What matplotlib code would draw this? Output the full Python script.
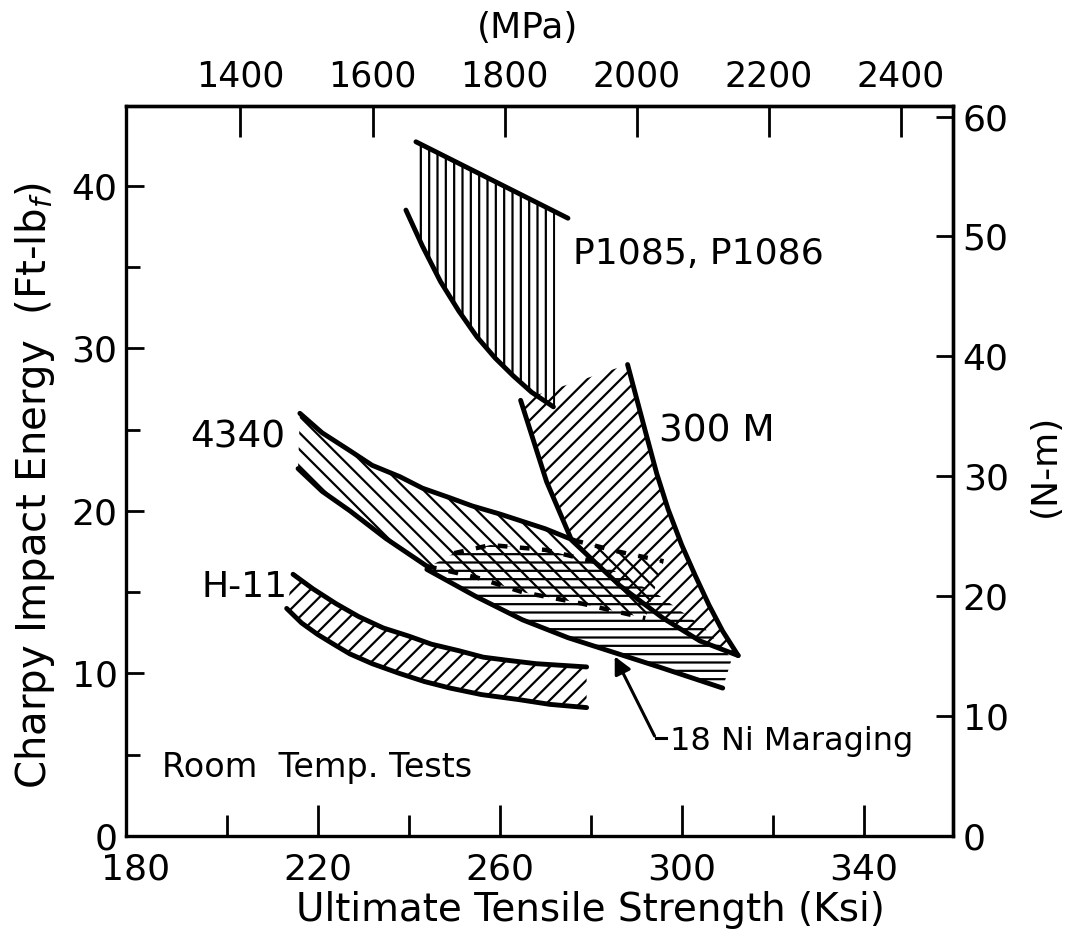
import numpy as np
import matplotlib
matplotlib.use('Agg')
import matplotlib.pyplot as plt

plt.rcParams['font.family'] = ['DejaVu Sans']
plt.rcParams['hatch.linewidth'] = 1.6
plt.rcParams['mathtext.fontset'] = 'dejavusans'

# band outlines read in (ksi, ft-lbf)
p1085_top_ksi = [241.6, 275.0]
p1085_top_ft = [42.7, 38.0]
p1085_low_ksi = [239.4, 243.0, 247.0, 251.0, 255.0, 259.0, 263.0, 267.0, 271.8]
p1085_low_ft = [38.5, 36.3, 34.1, 32.3, 30.7, 29.4, 28.3, 27.3, 26.4]

m300_right_ksi = [288.1, 290.0, 292.0, 294.5, 297.0, 300.0, 303.0, 306.0, 309.0, 312.4]
m300_right_ft = [29.0, 27.0, 24.9, 22.3, 20.1, 17.9, 16.0, 14.2, 12.6, 11.1]
m300_left_ksi = [264.6, 270.3, 275.8, 286.4, 295.9, 304.0, 312.4]
m300_left_ft = [26.8, 21.8, 18.2, 15.4, 13.4, 12.0, 11.1]

a4340_up_ksi = [216.1, 221.0, 227.1, 232.0, 238.1, 243.0, 249.1, 254.0, 260.1, 270.0, 276.2, 286.0, 296.0]
a4340_up_ft = [26.0, 24.8, 23.7, 22.8, 22.1, 21.4, 20.8, 20.3, 19.8, 18.9, 18.2, 17.5, 16.9]
a4340_low_ksi = [215.7, 221.0, 227.1, 235.0, 244.0, 255.0, 265.0, 278.0, 292.0]
a4340_low_ft = [22.6, 21.2, 20.0, 18.3, 16.6, 15.9, 15.0, 14.3, 13.4]

mar_up_ksi = [244.0, 250.0, 258.0, 270.0, 282.0, 295.0, 305.0, 311.0]
mar_up_ft = [16.5, 17.4, 17.9, 17.6, 16.8, 14.8, 12.8, 10.9]
mar_low_ksi = [244.0, 255.0, 265.0, 275.0, 285.0, 295.0, 309.0]
mar_low_ft = [16.4, 14.7, 13.3, 12.2, 11.3, 10.4, 9.1]

h11_up_ksi = [214.6, 219.0, 224.0, 229.0, 234.4, 240.0, 245.0, 251.0, 256.4, 262.0, 268.0, 279.1]
h11_up_ft = [16.1, 15.2, 14.3, 13.5, 12.8, 12.3, 11.8, 11.4, 11.0, 10.8, 10.6, 10.4]
h11_low_ksi = [213.2, 216.5, 220.0, 223.5, 227.1, 232.0, 238.0, 243.5, 249.1, 256.0, 264.0, 271.0, 279.1]
h11_low_ft = [14.0, 13.1, 12.4, 11.8, 11.2, 10.6, 10.0, 9.5, 9.1, 8.7, 8.4, 8.1, 7.9]

mpa_ticks = [1400, 1600, 1800, 2000, 2200, 2400]
nm_ticks = [0, 10, 20, 30, 40, 50, 60]

KSI_TO_MPA = 6.894757
FTLB_TO_NM = 1.355818

fig = plt.figure(figsize=(10.76, 9.4), dpi=100)
ax = fig.add_axes([0.1171, 0.1106, 0.7686, 0.7766])
ax.set_xlim(177.9, 359.6)
ax.set_ylim(0, 44.9)

EDGE = dict(color='k', lw=3.5, solid_capstyle='round')
DASH = dict(color='k', lw=3.2, ls=(0, (2.2, 2.8)))


def band(xu, yu, xl, yl, hatch):
    xs = list(xu) + list(xl)[::-1]
    ys = list(yu) + list(yl)[::-1]
    ax.fill(xs, ys, facecolor='none', edgecolor='k', linewidth=0, hatch=hatch)


# P1085 / P1086: vertical hatching between the two edges
xs = np.linspace(241.6, 272.2, 80)
ax.fill_between(xs, np.interp(xs, p1085_low_ksi, p1085_low_ft, left=38.6, right=26.3),
                np.interp(xs, p1085_top_ksi, p1085_top_ft),
                facecolor='none', edgecolor='k', linewidth=0, hatch='||')
ax.plot(p1085_top_ksi, p1085_top_ft, **EDGE)
ax.plot(p1085_low_ksi, p1085_low_ft, **EDGE)

# 300 M
band(m300_right_ksi, m300_right_ft, m300_left_ksi, m300_left_ft, '//')
ax.plot(m300_right_ksi, m300_right_ft, **EDGE)
ax.plot(m300_left_ksi, m300_left_ft, **EDGE)

# 4340 (dashed where it runs under the other bands)
band(a4340_up_ksi, a4340_up_ft, a4340_low_ksi, a4340_low_ft, '\\\\')
ax.plot(a4340_up_ksi[:11], a4340_up_ft[:11], **EDGE)
ax.plot(a4340_up_ksi[10:], a4340_up_ft[10:], **DASH)
ax.plot(a4340_low_ksi[:5], a4340_low_ft[:5], **EDGE)
ax.plot(a4340_low_ksi[4:], a4340_low_ft[4:], **DASH)

# 18 Ni maraging
band(mar_up_ksi, mar_up_ft, mar_low_ksi, mar_low_ft, '--')
ax.plot(mar_up_ksi[1:5], mar_up_ft[1:5], **DASH)
ax.plot(mar_low_ksi, mar_low_ft, **EDGE)

# H-11
band(h11_up_ksi, h11_up_ft, h11_low_ksi, h11_low_ft, '//')
ax.plot(h11_up_ksi, h11_up_ft, **EDGE)
ax.plot(h11_low_ksi, h11_low_ft, **EDGE)

# labels inside the plot
ax.text(276.1, 35.8, 'P1085, P1086', fontsize=26, va='center', ha='left')
ax.text(295.1, 24.9, '300 M', fontsize=27, va='center', ha='left')
ax.text(191.9, 24.5, '4340', fontsize=27, va='center', ha='left')
ax.text(194.5, 15.3, 'H-11', fontsize=26, va='center', ha='left')
ax.text(185.7, 4.2, 'Room  Temp. Tests', fontsize=24, va='center', ha='left')
ax.text(297.4, 5.8, '18 Ni Maraging', fontsize=23, va='center', ha='left')
ax.annotate('', xy=(285.0, 11.2), xytext=(294.3, 6.0),
            arrowprops=dict(arrowstyle='-|>', color='k', lw=2.2, mutation_scale=26))
ax.plot([294.3, 296.6], [6.0, 6.0], 'k-', lw=2.2)

# axes, ticks
for s in ax.spines.values():
    s.set_linewidth(2.4)
ax.set_xticks([180, 220, 260, 300, 340])
ax.set_xticks([200, 240, 280, 320], minor=True)
ax.set_yticks([0, 10, 20, 30, 40])
ax.set_yticks([5, 15, 25, 35], minor=True)
ax.tick_params(axis='x', which='major', direction='in', length=22, width=2, labelsize=26, pad=12)
ax.tick_params(axis='x', which='minor', direction='in', length=15, width=2)
ax.tick_params(axis='y', which='major', direction='in', length=13, width=2, labelsize=26, pad=6)
ax.tick_params(axis='y', which='minor', direction='in', length=10, width=2)
ax.xaxis.get_major_ticks()[0].tick1line.set_visible(False)

top = ax.secondary_xaxis('top', functions=(lambda k: k * KSI_TO_MPA, lambda m: m / KSI_TO_MPA))
top.set_xticks(mpa_ticks)
top.tick_params(direction='in', length=22, width=2, labelsize=25, pad=9)
top.spines['top'].set_linewidth(2.4)

right = ax.secondary_yaxis('right', functions=(lambda f: f * FTLB_TO_NM, lambda n: n / FTLB_TO_NM))
right.set_yticks(nm_ticks)
right.tick_params(direction='in', length=12, width=2, labelsize=26, pad=7)
right.spines['right'].set_linewidth(2.4)

fig.text(590 / 1076, 1 - 910 / 940, 'Ultimate Tensile Strength (Ksi)', fontsize=28, ha='center', va='center')
fig.text(35 / 1076, 1 - 486 / 940, 'Charpy Impact Energy  (Ft-lb$_f$)', fontsize=29,
         rotation=90, ha='center', va='center')
fig.text(1045 / 1076, 1 - 465 / 940, '(N-m)', fontsize=26, rotation=90, ha='center', va='center')
fig.text(528 / 1076, 1 - 28 / 940, '(MPa)', fontsize=26, ha='center', va='center')

fig.savefig('out.png', dpi=100, facecolor='white')
